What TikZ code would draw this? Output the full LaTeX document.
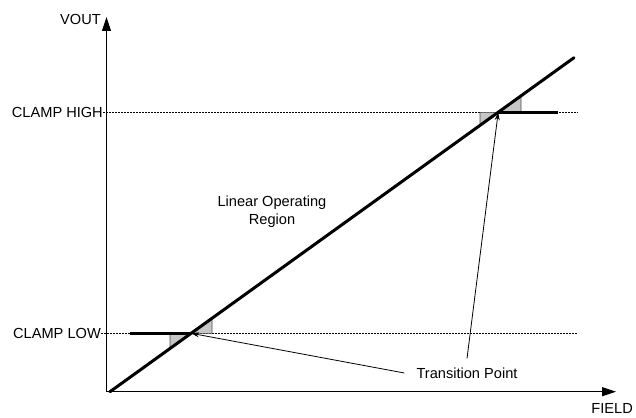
\documentclass[tikz,border=0pt]{standalone}
\usepackage{fontspec}
\setmainfont{Liberation Sans}
\usetikzlibrary{arrows.meta}

\begin{document}
\begin{tikzpicture}[x=1pt,y=-1pt]
      \tikzset{
        every node/.style={inner sep=0pt,font=\fontsize{14.6pt}{18pt}\selectfont},
        axis/.style={line width=1pt,-{Triangle[length=14pt,width=9pt]}},
        clampline/.style={line width=1pt,dash pattern=on 1.5pt off 1.5pt},
        clampbar/.style={line width=3pt},
        wedge/.style={fill=gray!45,draw=black!70,line width=0.6pt},
        annot/.style={line width=0.8pt,-{Stealth[length=8pt,width=5pt]}}
      }
      \useasboundingbox (0,0) rectangle (636,417);

      % axes
      \coordinate (O) at (106.5,391.7);
      \coordinate (ytip) at (106.5,17);
      \coordinate (xtip) at (616,391.7);
      \draw[axis] (O) -- (ytip);
      \draw[axis] (O) -- (xtip);
      \node[anchor=east] (vout) at (101,19) {VOUT};
      \node[anchor=east] (field) at (633,408) {FIELD};

      % clamp levels
      \node[anchor=east] (high) at (103,112.3) {CLAMP HIGH};
      \node[anchor=east] (low) at (101,333.3) {CLAMP LOW};
      \coordinate (highend) at (578,112.3);
      \coordinate (lowend) at (578,333.3);
      \draw[clampline] (high.east) -- (highend);
      \draw[clampline] (low.east) -- (lowend);

      \coordinate (tlow) at (191.1,333.3);
      \coordinate (thigh) at (498.2,112.3);

      % transition wedges
      \draw[wedge] (170,333.3) -- (170,348.5) -- (tlow) -- cycle;
      \draw[wedge] (tlow) -- (212,333.3) -- (212,318.3) -- cycle;
      \draw[wedge] (480,112.3) -- (480,125.4) -- (thigh) -- cycle;
      \draw[wedge] (thigh) -- (521,112.3) -- (521,95.9) -- cycle;

      \coordinate (lowstart) at (130,333.3);
      \coordinate (highstop) at (558,112.3);
      \draw[clampbar] (lowstart) -- (tlow);
      \draw[clampbar] (thigh) -- (highstop);

      % linear response
      \coordinate (d0) at (110,391.7);
      \coordinate (d1) at (574,57.7);
      \draw[line width=3pt,line cap=round] (d0) -- (d1);

      \node[align=center] (lin) at (272,212) {Linear Operating\\Region};

      \node[inner xsep=12pt,inner ysep=9pt] (tp) at (467,373) {Transition Point};
      \draw[annot] (tp.west) -- (tlow);
      \draw[annot] (tp.north) -- (thigh);
    \end{tikzpicture}
\end{document}
